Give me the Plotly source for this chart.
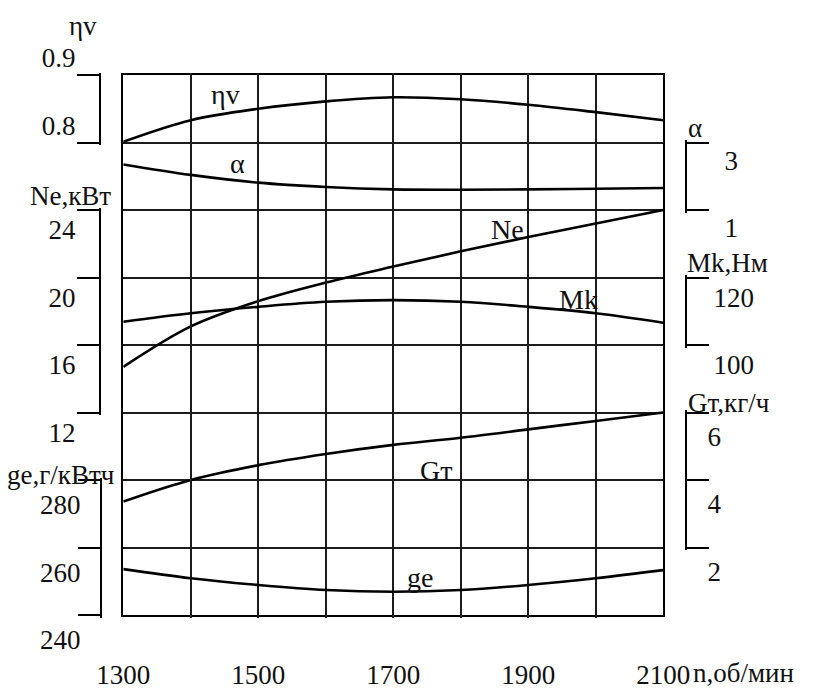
import plotly.graph_objects as go

# Engine speed characteristic: crankshaft speed, rpm
rpm = [1300, 1400, 1500, 1600, 1700, 1800, 1900, 2000, 2100]

# Volumetric efficiency
eta_v = [0.801, 0.833, 0.850, 0.861, 0.867, 0.864, 0.856, 0.845, 0.833]
# Excess air ratio
alpha = [2.35, 2.04, 1.81, 1.68, 1.61, 1.60, 1.61, 1.63, 1.65]
# Effective power, kW
power_ne = [14.7, 17.1, 18.6, 19.7, 20.65, 21.55, 22.4, 23.2, 24.0]
# Torque, N*m
torque_mk = [106.9, 109.4, 111.3, 112.8, 113.3, 112.8, 111.3, 109.4, 106.6]
# Hourly fuel consumption, kg/h
fuel_gt = [3.36, 4.0, 4.44, 4.77, 5.04, 5.25, 5.5, 5.75, 6.0]
# Specific fuel consumption, g/kWh
sfc_ge = [253.6, 250.9, 248.9, 247.4, 246.9, 247.4, 248.9, 250.9, 253.3]

# Axis ticks
x_ticks = [1300, 1400, 1500, 1600, 1700, 1800, 1900, 2000, 2100]
x_labels = ["1300", "", "1500", "", "1700", "", "1900", "", "2100"]
eta_ticks = [0.8, 0.9]
ne_ticks = [12, 16, 20, 24]
ge_ticks = [240, 260, 280]
alpha_ticks = [1, 3]
mk_ticks = [100, 120]
gt_ticks = [2, 4, 6]

# ---- geometry (pixels) ----
W, H = 814, 690
LEFT, RIGHT, TOP, CELL = 123.3, 663.3, 75.0, 67.5
BOTTOM = TOP + 8 * CELL
FONT = "Liberation Serif, Times New Roman, DejaVu Serif, serif"
FS = 27
FS_CURVE = 28
INK = "#111111"


def row(i):
    return TOP + i * CELL


def scale_axis(lo, hi, top_px, bot_px, pad=2.5):
    """Domain and range for a scale bracket spanning top_px..bot_px."""
    upp = (hi - lo) / (bot_px - top_px)
    rng = [lo - pad * upp, hi + pad * upp]
    dom = [1 - (bot_px + pad) / H, 1 - (top_px - pad) / H]
    return dom, rng


def bracket(vals, top_i, bot_i, side, xpos, shift, standoff):
    dom, rng = scale_axis(min(vals), max(vals), row(top_i), row(bot_i))
    return dict(
        domain=dom, range=rng, anchor="free", position=xpos / W, side=side,
        showgrid=False, zeroline=False, showline=True, linecolor="black",
        linewidth=2, ticks="outside", ticklen=22, tickwidth=2,
        tickcolor="black", tickvals=vals, ticktext=[f"{v:g}" for v in vals],
        tickfont=dict(family=FONT, size=FS, color=INK),
        ticklabelshift=shift, ticklabelstandoff=standoff, automargin=False,
        fixedrange=True,
    )


fig = go.Figure()

# empty trace that keeps the main grid subplot (x, y) alive
fig.add_trace(go.Scatter(x=[None], y=[None], xaxis="x", yaxis="y",
                         mode="lines", showlegend=False, hoverinfo="skip"))

series = [
    (eta_v, "y2"),
    (alpha, "y3"),
    (power_ne, "y4"),
    (torque_mk, "y5"),
    (fuel_gt, "y6"),
    (sfc_ge, "y7"),
]
for vals, ax in series:
    fig.add_trace(go.Scatter(
        x=rpm, y=vals, xaxis="x", yaxis=ax, mode="lines",
        line=dict(color="black", width=2.6, shape="spline", smoothing=1.0),
        showlegend=False, hoverinfo="skip",
    ))

grid = dict(showgrid=True, gridcolor="#1c1c1c", gridwidth=2)

fig.update_layout(
    width=W, height=H,
    margin=dict(l=0, r=0, t=0, b=0),
    paper_bgcolor="white", plot_bgcolor="rgba(0,0,0,0)",
    showlegend=False,
    xaxis=dict(
        domain=[LEFT / W, RIGHT / W], range=[1300, 2100], anchor="y",
        tickvals=x_ticks, ticktext=x_labels, ticks="",
        tickfont=dict(family=FONT, size=FS, color=INK),
        ticklabelstandoff=35, showline=True, mirror=True,
        linecolor="black", linewidth=2, zeroline=False,
        automargin=False, fixedrange=True, **grid,
    ),
    yaxis=dict(
        domain=[1 - BOTTOM / H, 1 - TOP / H], range=[0, 8], anchor="x",
        tickvals=list(range(9)), showticklabels=False, ticks="",
        showline=True, mirror=True, linecolor="black", linewidth=2,
        zeroline=False, automargin=False, fixedrange=True, **grid,
    ),
    yaxis2=bracket(eta_ticks, 0, 1, "left", 100, -17, -4),
    yaxis3=bracket(alpha_ticks, 1, 2, "right", 686, 18, 10),
    yaxis4=bracket(ne_ticks, 2, 5, "left", 100, 20, -4),
    yaxis5=bracket(mk_ticks, 3, 4, "right", 686, 20, -1),
    yaxis6=bracket(gt_ticks, 5, 7, "right", 686, 24, -7),
    yaxis7=bracket(ge_ticks, 6, 8, "left", 101, 25, -8),
)

# Scale titles (x, y in px, horizontal / vertical anchor)
titles = [
    ("ηv", 83, 26, "center", "middle"),
    ("Ne,кВт", 70, 196, "center", "middle"),
    ("ge,г/кВтч", 61, 475, "center", "middle"),
    ("α", 686, 128, "left", "middle"),
    ("Mk,Нм", 685, 263, "left", "middle"),
    ("Gт,кг/ч", 686, 403, "left", "middle"),
    ("n,об/мин", 691, 689.5, "left", "bottom"),
]
# Curve names
curve_names = [
    ("ηv", 225, 95, "center", "middle"),
    ("α", 237, 163, "center", "middle"),
    ("Ne", 507, 229, "center", "middle"),
    ("Mk", 578, 299, "center", "middle"),
    ("Gт", 436, 471, "center", "middle"),
    ("ge", 420, 577, "center", "middle"),
]
for group, size in ((titles, FS), (curve_names, FS_CURVE)):
    for text, px, py, xa, ya in group:
        fig.add_annotation(
            text=text, x=px / W, y=1 - py / H, xref="paper", yref="paper",
            xanchor=xa, yanchor=ya, showarrow=False,
            font=dict(family=FONT, size=size, color=INK),
        )

fig.write_html("out.html")
